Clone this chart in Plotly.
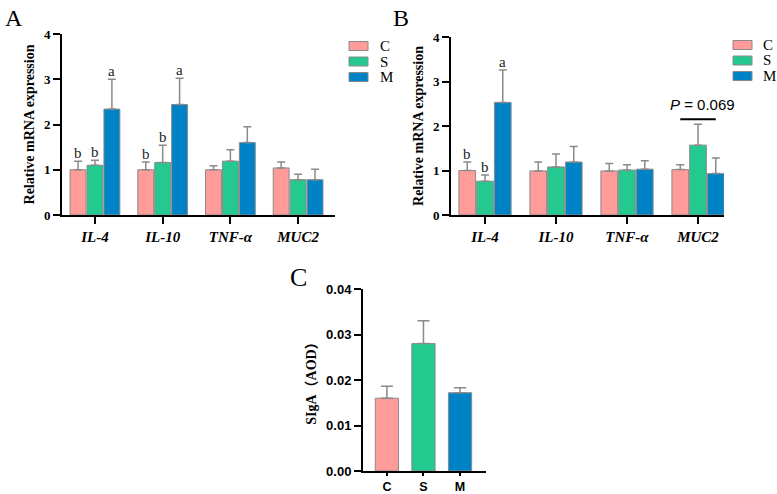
import plotly.graph_objects as go

# ---------------- data ----------------
genes = ["IL-4", "IL-10", "TNF-α", "MUC2"]
groups = ["C", "S", "M"]

# Panel A (relative mRNA expression)
a_C = [1.00, 1.00, 1.00, 1.04]
a_S = [1.10, 1.16, 1.19, 0.78]
a_M = [2.34, 2.44, 1.60, 0.78]
a_C_err = [0.19, 0.17, 0.09, 0.13]
a_S_err = [0.11, 0.38, 0.25, 0.12]
a_M_err = [0.66, 0.58, 0.35, 0.23]
a_C_lbl = ["b", "b", "", ""]
a_S_lbl = ["b", "b", "", ""]
a_M_lbl = ["a", "a", "", ""]

# Panel B (relative mRNA expression)
b_C = [1.00, 0.99, 0.99, 1.02]
b_S = [0.76, 1.08, 1.01, 1.57]
b_M = [2.53, 1.19, 1.03, 0.93]
b_C_err = [0.19, 0.20, 0.17, 0.11]
b_S_err = [0.14, 0.29, 0.12, 0.47]
b_M_err = [0.73, 0.35, 0.19, 0.35]
b_C_lbl = ["b", "", "", ""]
b_S_lbl = ["b", "", "", ""]
b_M_lbl = ["a", "", "", ""]
b_p_text = "<i>P</i> = 0.069"
b_p_gene = "MUC2"
b_p_line_y = 2.15

# Panel C (SIgA, AOD)
c_groups = ["C", "S", "M"]
c_vals = [0.0160, 0.0280, 0.0172]
c_err = [0.0026, 0.0050, 0.0011]

# ---------------- style ----------------
W, H = 777, 494
colors = {"C": "#FF9C99", "S": "#23C98F", "M": "#0083C6"}
edge = "#8a8a8a"
serif = "Liberation Serif"
sans = "Liberation Sans"
bw = 0.235
step = 0.25

fig = go.Figure()

panels = [
    ("x", "y", {"C": (a_C, a_C_err, a_C_lbl), "S": (a_S, a_S_err, a_S_lbl), "M": (a_M, a_M_err, a_M_lbl)}),
    ("x2", "y2", {"C": (b_C, b_C_err, b_C_lbl), "S": (b_S, b_S_err, b_S_lbl), "M": (b_M, b_M_err, b_M_lbl)}),
]

annotations = []
shapes = []
for xa, ya, d in panels:
    for gi, g in enumerate(groups):
        vals, errs, lbls = d[g]
        fig.add_trace(go.Bar(
            x=genes, y=vals, name=g, showlegend=False, xaxis=xa, yaxis=ya,
            offset=(gi - 1) * step - bw / 2, width=bw,
            marker=dict(color=colors[g], line=dict(color=edge, width=1)),
            error_y=dict(type="data", array=errs, arrayminus=[0] * len(errs),
                         symmetric=False, color=edge, thickness=1.5, width=4),
        ))
        for i, (v, e, t) in enumerate(zip(vals, errs, lbls)):
            if t:
                annotations.append(dict(
                    x=i + (gi - 1) * step, y=v + e, xref=xa, yref=ya, text=t,
                    showarrow=False, yanchor="bottom", yshift=-2,
                    font=dict(family=serif, size=15, color="#222")))

fig.add_trace(go.Bar(
    x=c_groups, y=c_vals, xaxis="x3", yaxis="y3", showlegend=False, width=0.636,
    marker=dict(color=[colors[g] for g in c_groups], line=dict(color=edge, width=1)),
    error_y=dict(type="data", array=c_err, arrayminus=[0] * 3, symmetric=False,
                 color=edge, thickness=1.5, width=6),
))

# P value bracket in panel B
pi = genes.index(b_p_gene)
shapes.append(dict(type="line", xref="x2", yref="y2", x0=pi - step, x1=pi + step,
                   y0=b_p_line_y, y1=b_p_line_y, line=dict(color="black", width=2)))
annotations.append(dict(x=pi + 0.07, y=b_p_line_y, xref="x2", yref="y2", text=b_p_text,
                        showarrow=False, yanchor="bottom", yshift=4,
                        font=dict(family=sans, size=15, color="black")))

# legends (drawn as keys in paper space)
for lx, ly, tx in [(349, 46, 29), (733, 45, 28)]:
    for gi, g in enumerate(groups):
        cy = ly + gi * 15.5
        shapes.append(dict(type="rect", xref="paper", yref="paper",
                           x0=lx / W, x1=(lx + 19) / W, y0=1 - (cy - 4.5) / H, y1=1 - (cy + 4.5) / H,
                           fillcolor=colors[g], line=dict(color=edge, width=1)))
        annotations.append(dict(x=(lx + tx) / W, y=1 - cy / H, xref="paper", yref="paper", text=g,
                                showarrow=False, xanchor="left", yanchor="middle",
                                font=dict(family=serif, size=15, color="black")))

# panel letters
for t, x, y, s in [("A", 3, 3, 24), ("B", 391, 3, 24), ("C", 288, 261, 26)]:
    annotations.append(dict(x=x / W, y=1 - y / H, xref="paper", yref="paper", text=t,
                            showarrow=False, xanchor="left", yanchor="top",
                            font=dict(family=serif, size=s, color="black")))

def xax(domain, rng, cats, ticktext, font, size, anchor, ticklen=7):
    return dict(domain=domain, range=rng, type="category", categoryorder="array",
                categoryarray=cats, tickvals=cats, ticktext=ticktext, anchor=anchor,
                showline=True, linecolor="black", linewidth=2, ticks="outside",
                ticklen=ticklen, tickwidth=2, tickcolor="black", showgrid=False, zeroline=False,
                tickfont=dict(family=font, size=size, color="black", weight="bold"),
                automargin=False, fixedrange=True)

def yax(domain, rng, dtick, fmt, title, font, tsize, tfont, tfsize, standoff, anchor):
    return dict(domain=domain, range=rng, dtick=dtick, tickformat=fmt, anchor=anchor,
                showline=True, linecolor="black", linewidth=2, ticks="outside",
                ticklen=7, tickwidth=2, tickcolor="black", showgrid=False, zeroline=False,
                tickfont=dict(family=font, size=tsize, color="black", weight="bold"),
                title=dict(text=title, standoff=standoff,
                           font=dict(family=tfont, size=tfsize, color="black", weight="bold")),
                automargin=False, fixedrange=True)

gene_text = ["<i>%s</i>" % g for g in genes]

fig.update_layout(
    width=W, height=H, margin=dict(l=0, r=0, t=0, b=0, autoexpand=False),
    paper_bgcolor="white", plot_bgcolor="white", showlegend=False,
    xaxis=xax([62 / W, 335 / W], [-0.487, 3.545], genes, gene_text, serif, 15, "y"),
    yaxis=yax([1 - 215 / H, 1 - 34 / H], [0, 4], 1, "d", "Relative mRNA expression",
              serif, 13, serif, 14, 6, "x"),
    xaxis2=xax([451 / W, 724 / W], [-0.479, 3.366], genes, gene_text, serif, 15, "y2"),
    yaxis2=yax([1 - 215 / H, 1 - 37 / H], [0, 4], 1, "d", "Relative mRNA expression",
               serif, 13, serif, 14, 6, "x2"),
    xaxis3=xax([363 / W, 486 / W], [-0.654, 2.71], c_groups, c_groups, sans, 12.5, "y3", ticklen=3),
    yaxis3=yax([1 - 471 / H, 1 - 289 / H], [0, 0.04], 0.01, ".2f", "SIgA（AOD）",
               sans, 13, serif + ", Noto Sans CJK SC", 14, 6, "x3"),
    annotations=annotations,
    shapes=shapes,
)

fig.write_html("out.html", config={"displayModeBar": False},
               post_script="document.body.style.margin='0';document.body.style.overflow='hidden';")
